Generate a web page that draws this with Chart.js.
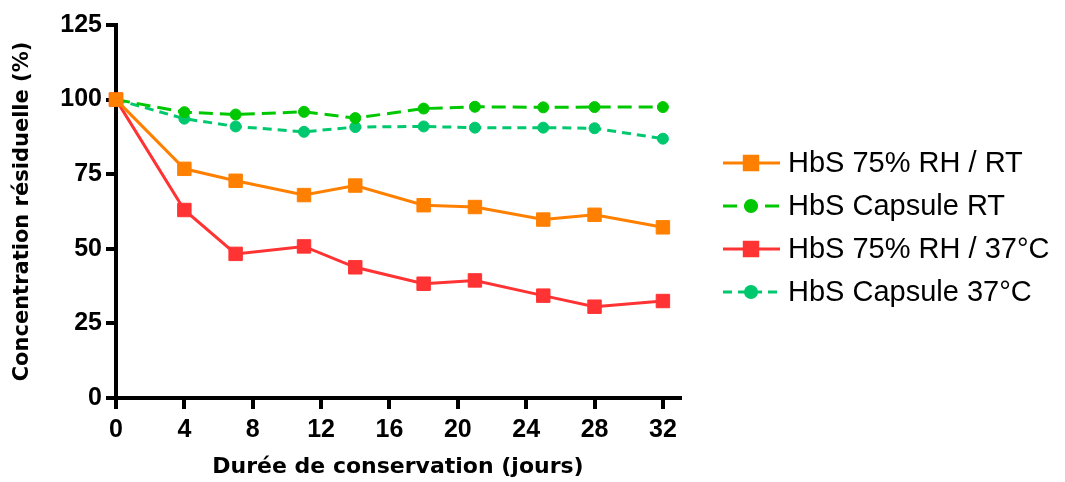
<!DOCTYPE html>
<html>
<head>
<meta charset="utf-8">
<script src="https://cdn.jsdelivr.net/npm/chart.js@4/dist/chart.umd.min.js"></script>
<style>
  html, body { margin: 0; padding: 0; background: #fff; }
  #wrap { width: 1065px; height: 482px; }
</style>
</head>
<body>
<div id="wrap"><canvas id="chart" width="1065" height="482"></canvas></div>
<script>
// jours de conservation
const jours = [0, 4, 7, 11, 14, 18, 21, 25, 28, 32];
const rhRT = [100, 76.8, 72.8, 68, 71.2, 64.6, 64, 59.8, 61.4, 57.2];
const capsuleRT = [100, 95.8, 95, 95.9, 93.8, 97, 97.6, 97.4, 97.5, 97.5];
const rh37 = [100, 63, 48.3, 50.8, 43.8, 38.3, 39.4, 34.3, 30.6, 32.5];
const capsule37 = [100, 93.6, 91, 89.2, 90.8, 91, 90.6, 90.6, 90.4, 86.9];
const yTicks = [0, 25, 50, 75, 100, 125];
const xTicks = [0, 4, 8, 12, 16, 20, 24, 28, 32];
const labels = ['HbS 75% RH / RT', 'HbS Capsule RT', 'HbS 75% RH / 37°C', 'HbS Capsule 37°C'];

const toPts = arr => arr.map((v, i) => ({ x: jours[i], y: v }));

function serie(label, data, color, style, dash) {
    return {
        label: label,
        data: toPts(data),
        borderColor: color,
        backgroundColor: color,
        borderWidth: 3,
        borderDash: dash,
        pointStyle: style,
        pointRadius: style === 'rect' ? 9.5 : 5.5,
        pointBorderWidth: 1,
        pointBorderColor: color,
        pointBackgroundColor: color,
        tension: 0,
        clip: false
    };
}

// legende dessinee a la main : trait + marqueur + texte
const legendePlugin = {
    id: 'legende',
    afterDraw(chart) {
        const ctx = chart.ctx;
        chart.data.datasets.forEach((ds, i) => {
            const y = 163 + i * 43;
            ctx.save();
            ctx.strokeStyle = ds.borderColor;
            ctx.lineWidth = 3;
            ctx.setLineDash(ds.borderDash || []);
            ctx.beginPath();
            ctx.moveTo(723, y);
            ctx.lineTo(780, y);
            ctx.stroke();
            ctx.setLineDash([]);
            ctx.fillStyle = ds.borderColor;
            Chart.helpers.drawPoint(ctx, {
                pointStyle: ds.pointStyle,
                radius: ds.pointStyle === 'rect' ? 9.5 : 5.5,
                borderWidth: 1,
                rotation: 0
            }, 751, y);
            ctx.fillStyle = '#000';
            ctx.font = '29px "Liberation Sans", Arial, sans-serif';
            ctx.textBaseline = 'middle';
            ctx.textAlign = 'left';
            ctx.fillText(ds.label, 788, y + 1);
            ctx.restore();
        });
    }
};

const tickFont = { family: '"Liberation Sans", Arial, sans-serif', size: 25, weight: 'bold' };

new Chart(document.getElementById('chart'), {
    type: 'line',
    data: {
        datasets: [
            serie(labels[0], rhRT, '#FF8000', 'rect', []),
            serie(labels[1], capsuleRT, '#00C800', 'circle', [14, 7]),
            serie(labels[2], rh37, '#FF3333', 'rect', []),
            serie(labels[3], capsule37, '#00C86E', 'circle', [9, 6])
        ]
    },
    options: {
        responsive: false,
        animation: false,
        layout: { padding: { top: 25, right: 385, left: 0, bottom: 0 } },
        plugins: { legend: { display: false }, tooltip: { enabled: false } },
        scales: {
            x: {
                type: 'linear',
                min: 0,
                max: 33,
                afterBuildTicks: axis => { axis.ticks = xTicks.map(v => ({ value: v })); },
                afterFit: s => { s.height = 84; },
                border: { display: true, width: 4, color: '#000' },
                grid: { drawOnChartArea: false, drawTicks: true, tickLength: 11, lineWidth: 4, color: '#000' },
                ticks: { color: '#000', font: tickFont, padding: 6, maxRotation: 0 },
                title: {
                    display: true,
                    text: 'Durée de conservation (jours)',
                    color: '#000',
                    font: { family: '"DejaVu Sans", sans-serif', size: 22, weight: 'bold' },
                    padding: { top: 0, bottom: 2 }
                }
            },
            y: {
                min: 0,
                max: 125,
                afterBuildTicks: axis => { axis.ticks = yTicks.map(v => ({ value: v })); },
                afterFit: s => { s.width = 116; },
                border: { display: true, width: 4, color: '#000' },
                grid: { drawOnChartArea: false, drawTicks: true, tickLength: 10, lineWidth: 4, color: '#000' },
                ticks: { color: '#000', font: tickFont, padding: 4 },
                title: {
                    display: true,
                    text: 'Concentration résiduelle (%)',
                    color: '#000',
                    font: { family: '"DejaVu Sans", sans-serif', size: 21, weight: 'bold' },
                    padding: { top: 10, bottom: 0 }
                }
            }
        }
    },
    plugins: [legendePlugin]
});
</script>
</body>
</html>
